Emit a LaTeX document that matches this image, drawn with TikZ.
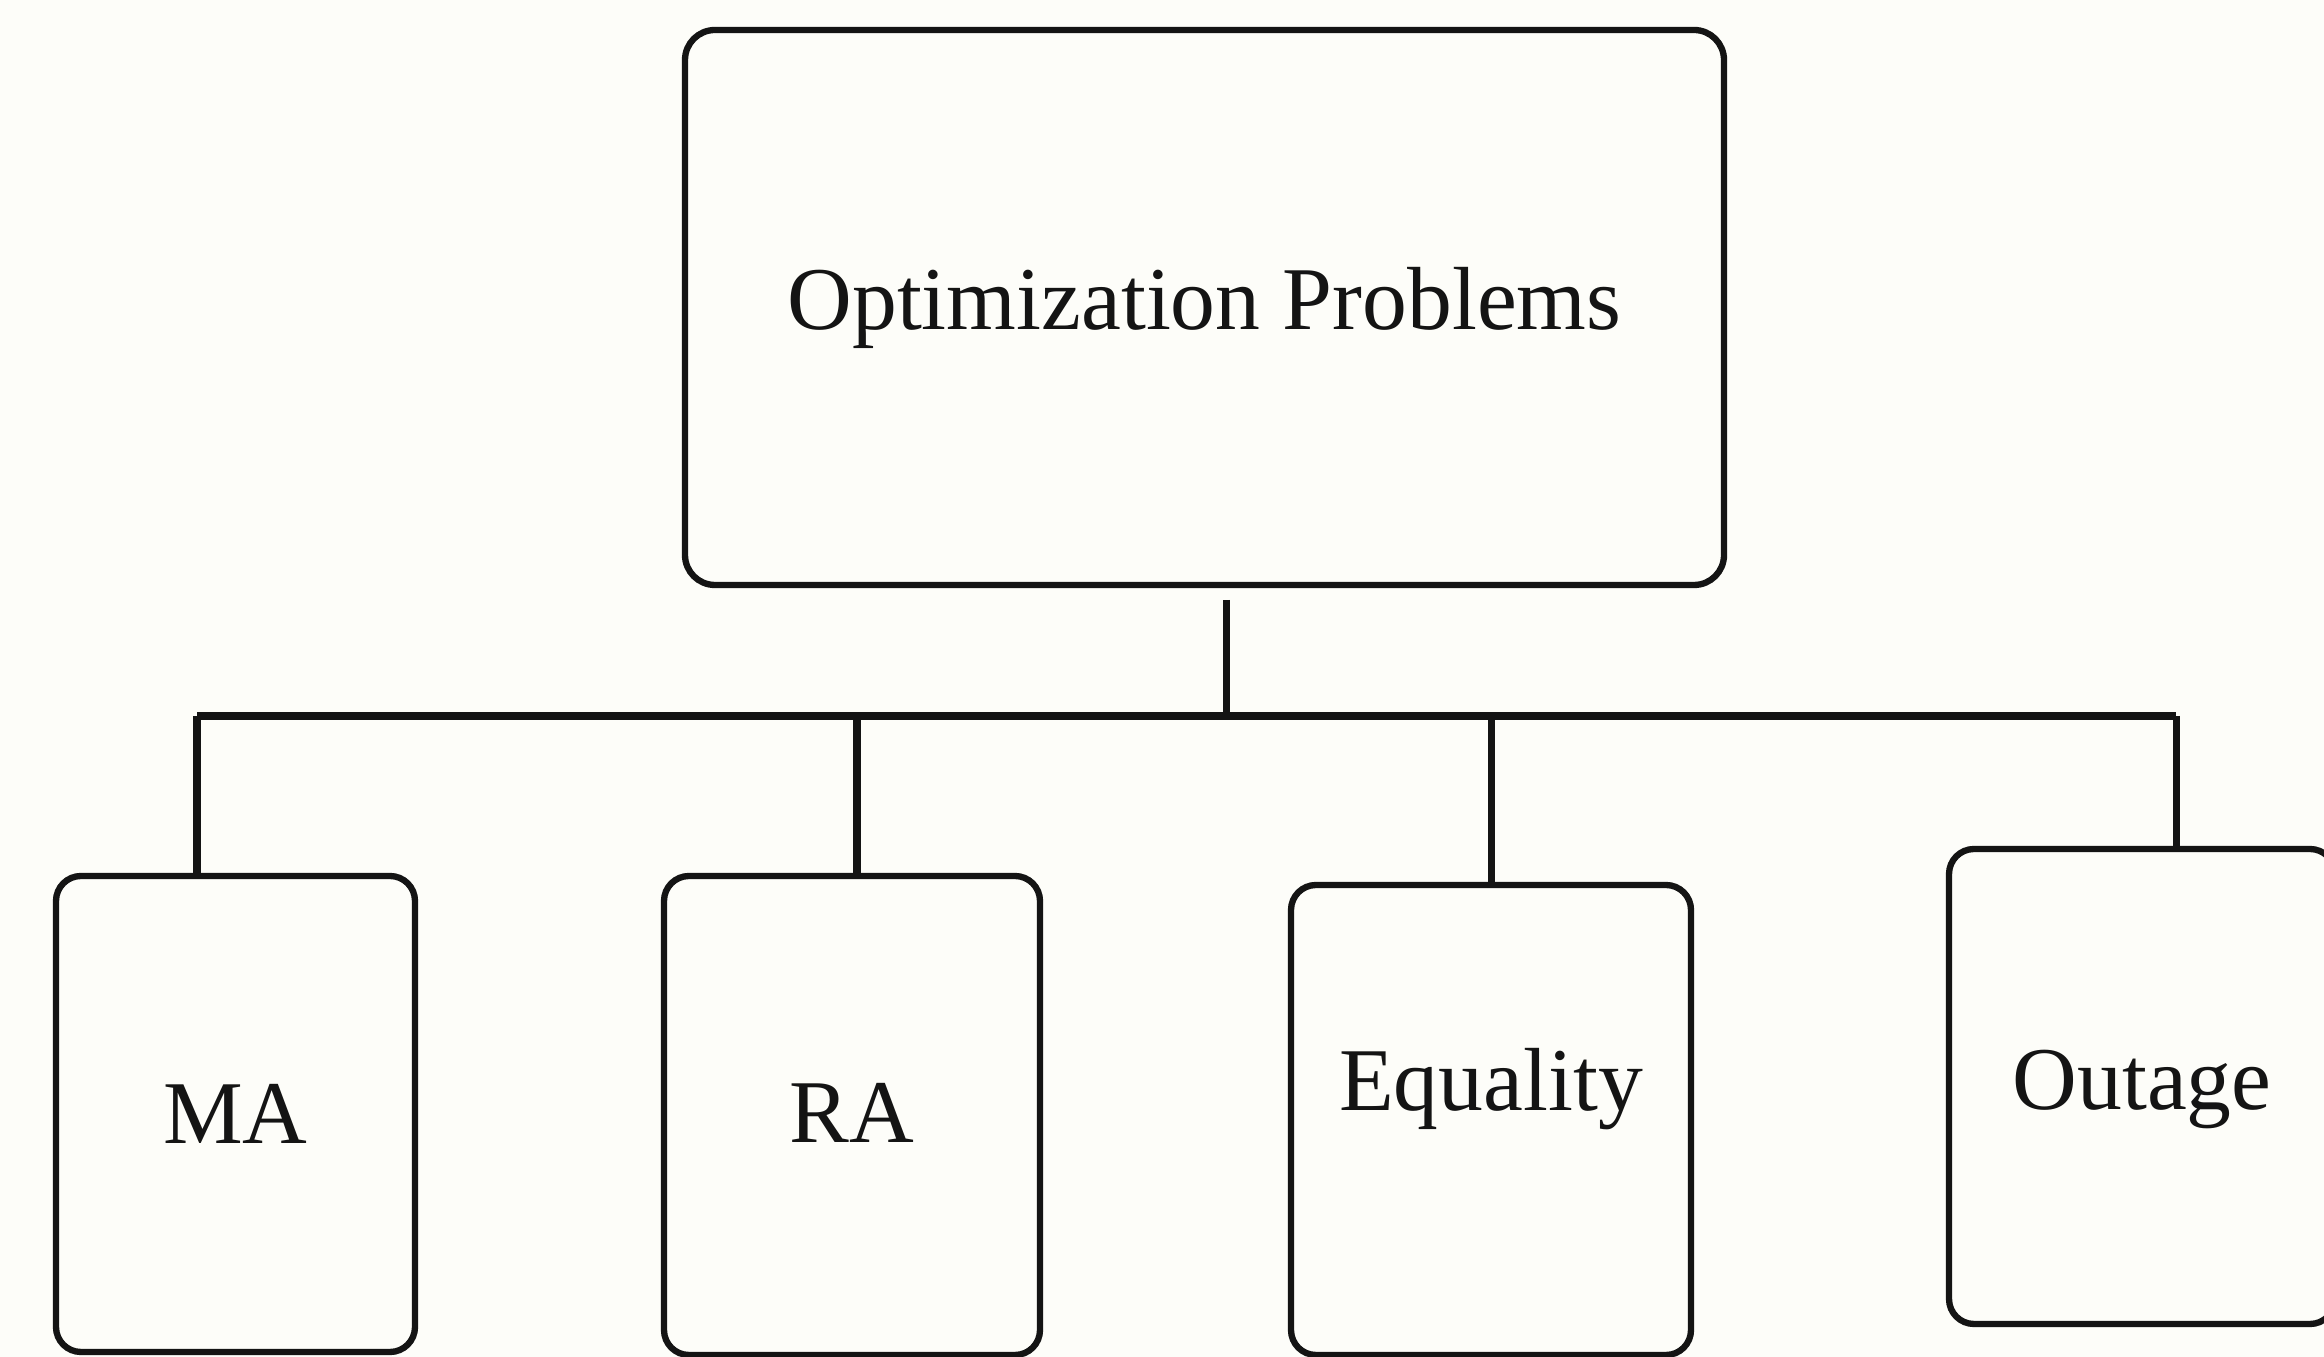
\documentclass[tikz,border=0pt]{standalone}
\usepackage{fontspec}
\setmainfont{Liberation Serif}
\definecolor{paper}{HTML}{FDFDF9}
\definecolor{ink}{HTML}{141414}

\begin{document}
\begin{tikzpicture}[x=1cm,y=1cm,line join=miter,
    box/.style={draw=ink,line width=1.8pt,rounded corners=0.25cm,fill=paper,inner sep=0pt},
    lbl/.style={text=ink,font=\fontsize{25.5}{26}\selectfont,inner sep=0pt},
    wire/.style={draw=ink,line width=2pt}]

  \fill[paper] (0,0) rectangle (23.24,13.57);
  \useasboundingbox (0,0) rectangle (23.24,13.57);

  % root and the four kinds of problem
  \node[box,rounded corners=0.3cm,minimum width=10.39cm,minimum height=5.55cm] (prob) at (12.045,10.495) {};
  \node[lbl] (problbl) at (prob.center) {Optimization Problems};

  \node[box,minimum width=3.59cm,minimum height=4.76cm] (ma) at (2.355,2.43) {};
  \node[box,minimum width=3.76cm,minimum height=4.79cm] (ra) at (8.52,2.415) {};
  \node[box,minimum width=4.00cm,minimum height=4.70cm] (eq) at (14.91,2.37) {};
  \node[box,minimum width=3.86cm,minimum height=4.75cm] (out) at (21.42,2.705) {};

  \node[lbl] (malbl) at (ma.center) {MA};
  \node[lbl] (ralbl) at ([yshift=0.03cm]ra.center) {RA};
  \node[lbl] (eqlbl) at ([yshift=0.31cm]eq.center) {Equality};
  \node[lbl] (outlbl) at ([yshift=-0.03cm]out.center) {Outage};

  % tree lines
  \coordinate (stemtop) at (12.26,7.57);
  \coordinate (hub) at (12.26,6.41);
  \coordinate (dma) at (1.97,6.41);
  \coordinate (dra) at (8.57,6.41);
  \coordinate (deq) at (14.91,6.41);
  \coordinate (dout) at (21.76,6.41);

  \draw[wire] (stemtop) -- (hub);
  \draw[wire] (dma) -- (dout);
  \draw[wire] (dma) -- (dma |- ma.north);
  \draw[wire] (dra) -- (dra |- ra.north);
  \draw[wire] (deq) -- (deq |- eq.north);
  \draw[wire] (dout) -- (dout |- out.north);

\end{tikzpicture}
\end{document}
